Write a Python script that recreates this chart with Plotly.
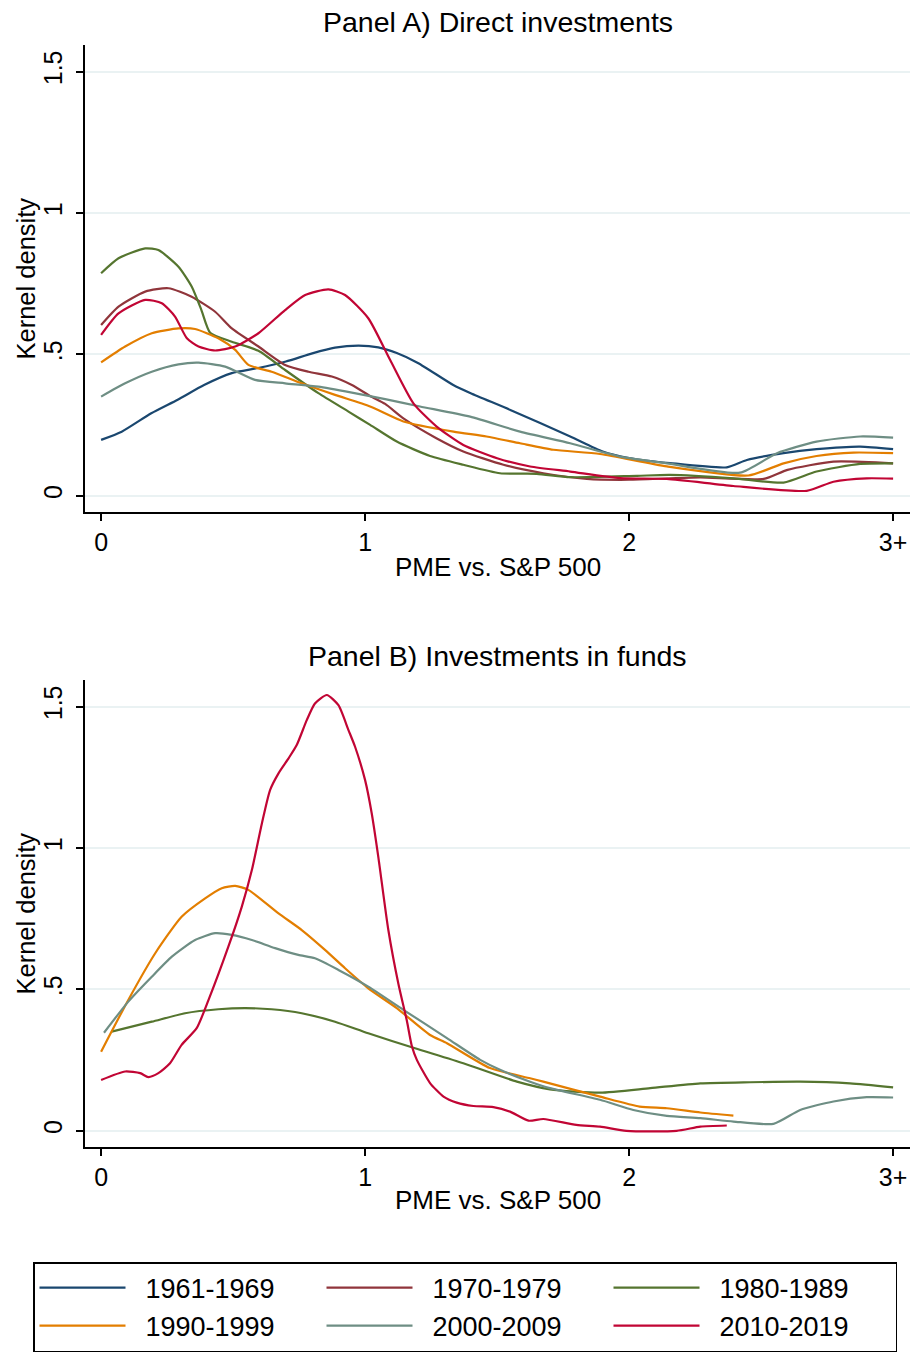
import plotly.graph_objects as go

W, H = 914, 1357

series_names = ["1961-1969", "1970-1979", "1980-1989", "1990-1999", "2000-2009", "2010-2019"]
series_colors = ["#1a476f", "#90353b", "#55752f", "#e37e00", "#6e8e84", "#c10534"]

x_tickvals = [0, 1, 2, 3]
x_ticktext = ["0", "1", "2", "3+"]
y_tickvals = [0, 0.5, 1, 1.5]
y_ticktext = ["0", ".5", "1", "1.5"]

# ---------------- Panel A: Direct investments ----------------
a_1961_x = [0, 0.078, 0.19, 0.29, 0.39, 0.495, 0.595, 0.70, 0.80, 0.886, 0.975, 1.05, 1.12, 1.20, 1.334, 1.40, 1.55, 1.777, 1.90, 2.0, 2.155, 2.37, 2.446, 2.585, 2.71, 2.875, 3.0]
a_1961_y = [0.198, 0.227, 0.292, 0.34, 0.392, 0.434, 0.452, 0.475, 0.504, 0.524, 0.531, 0.525, 0.505, 0.47, 0.392, 0.363, 0.304, 0.21, 0.157, 0.134, 0.116, 0.101, 0.127, 0.151, 0.165, 0.174, 0.165]

a_1970_x = [0, 0.066, 0.167, 0.255, 0.343, 0.432, 0.495, 0.596, 0.697, 0.785, 0.874, 0.95, 1.019, 1.076, 1.145, 1.27, 1.372, 1.524, 1.675, 1.84, 2.0, 2.155, 2.27, 2.51, 2.6, 2.774, 3.0]
a_1970_y = [0.604, 0.669, 0.722, 0.734, 0.704, 0.651, 0.592, 0.528, 0.463, 0.439, 0.422, 0.392, 0.353, 0.325, 0.274, 0.204, 0.157, 0.110, 0.080, 0.060, 0.057, 0.062, 0.065, 0.060, 0.092, 0.121, 0.115]

a_1980_x = [0, 0.066, 0.167, 0.217, 0.293, 0.343, 0.38, 0.413, 0.495, 0.596, 0.697, 0.823, 0.937, 1.019, 1.12, 1.246, 1.372, 1.511, 1.65, 1.777, 2.03, 2.155, 2.395, 2.585, 2.71, 2.875, 3.0]
a_1980_y = [0.787, 0.84, 0.875, 0.869, 0.81, 0.74, 0.657, 0.577, 0.545, 0.513, 0.445, 0.363, 0.298, 0.251, 0.192, 0.141, 0.11, 0.080, 0.078, 0.066, 0.071, 0.074, 0.062, 0.047, 0.086, 0.113, 0.115]

a_1990_x = [0, 0.091, 0.192, 0.293, 0.356, 0.444, 0.508, 0.558, 0.646, 0.76, 0.886, 1.019, 1.145, 1.335, 1.46, 1.587, 1.713, 1.89, 2.143, 2.452, 2.585, 2.71, 2.85, 3.0]
a_1990_y = [0.472, 0.528, 0.575, 0.592, 0.59, 0.557, 0.516, 0.463, 0.439, 0.398, 0.357, 0.316, 0.263, 0.227, 0.21, 0.186, 0.163, 0.148, 0.104, 0.072, 0.115, 0.141, 0.153, 0.151]

a_2000_x = [0, 0.091, 0.192, 0.293, 0.369, 0.47, 0.583, 0.697, 0.823, 0.95, 1.076, 1.208, 1.398, 1.587, 1.777, 1.966, 2.143, 2.42, 2.56, 2.71, 2.875, 3.0]
a_2000_y = [0.351, 0.398, 0.439, 0.465, 0.471, 0.457, 0.41, 0.398, 0.386, 0.365, 0.342, 0.316, 0.28, 0.227, 0.186, 0.139, 0.115, 0.082, 0.151, 0.192, 0.21, 0.206]

a_2010_x = [0, 0.066, 0.167, 0.23, 0.28, 0.325, 0.369, 0.432, 0.508, 0.596, 0.697, 0.773, 0.861, 0.924, 1.012, 1.095, 1.183, 1.271, 1.372, 1.5, 1.625, 1.777, 1.966, 2.143, 2.395, 2.673, 2.774, 2.9, 3.0]
a_2010_y = [0.569, 0.645, 0.693, 0.681, 0.634, 0.557, 0.528, 0.514, 0.528, 0.575, 0.657, 0.71, 0.73, 0.71, 0.628, 0.48, 0.327, 0.245, 0.18, 0.133, 0.104, 0.086, 0.063, 0.06, 0.035, 0.018, 0.05, 0.062, 0.061]

# ---------------- Panel B: Investments in funds ----------------
b_1980_x = [0.04, 0.192, 0.318, 0.444, 0.545, 0.646, 0.76, 0.886, 1.012, 1.189, 1.372, 1.575, 1.7, 1.89, 2.08, 2.27, 2.458, 2.648, 2.837, 3.0]
b_1980_y = [0.351, 0.386, 0.416, 0.43, 0.434, 0.43, 0.416, 0.386, 0.345, 0.292, 0.239, 0.174, 0.147, 0.135, 0.151, 0.168, 0.172, 0.174, 0.168, 0.154]

b_1990_x = [0, 0.103, 0.205, 0.305, 0.394, 0.457, 0.508, 0.558, 0.672, 0.76, 0.848, 0.924, 1.012, 1.12, 1.246, 1.31, 1.473, 1.625, 1.675, 1.89, 2.04, 2.143, 2.27, 2.395]
b_1990_y = [0.28, 0.463, 0.628, 0.757, 0.822, 0.858, 0.866, 0.852, 0.769, 0.71, 0.64, 0.575, 0.504, 0.434, 0.339, 0.31, 0.222, 0.186, 0.174, 0.121, 0.086, 0.08, 0.065, 0.054]

b_2000_x = [0.011, 0.103, 0.192, 0.268, 0.356, 0.432, 0.495, 0.571, 0.659, 0.747, 0.81, 0.899, 1.012, 1.145, 1.31, 1.436, 1.511, 1.625, 1.7, 1.89, 2.016, 2.143, 2.27, 2.395, 2.547, 2.648, 2.774, 2.9, 3.0]
b_2000_y = [0.347, 0.457, 0.545, 0.616, 0.675, 0.699, 0.693, 0.675, 0.646, 0.622, 0.61, 0.569, 0.51, 0.428, 0.328, 0.251, 0.216, 0.174, 0.151, 0.11, 0.074, 0.053, 0.045, 0.033, 0.025, 0.074, 0.104, 0.119, 0.118]

b_2010_x = [0, 0.091, 0.148, 0.179, 0.217, 0.261, 0.305, 0.362, 0.407, 0.482, 0.533, 0.571, 0.609, 0.64, 0.672, 0.71, 0.741, 0.779, 0.81, 0.855, 0.899, 0.937, 0.962, 1.0, 1.025, 1.05, 1.088, 1.126, 1.158, 1.177, 1.196, 1.246, 1.297, 1.347, 1.41, 1.486, 1.549, 1.619, 1.675, 1.8, 1.89, 1.99, 2.18, 2.27, 2.37]
b_2010_y = [0.18, 0.21, 0.204, 0.19, 0.204, 0.239, 0.304, 0.363, 0.463, 0.651, 0.793, 0.922, 1.087, 1.205, 1.264, 1.317, 1.364, 1.452, 1.511, 1.541, 1.505, 1.417, 1.358, 1.24, 1.123, 0.969, 0.71, 0.52, 0.39, 0.30, 0.251, 0.169, 0.121, 0.1, 0.088, 0.084, 0.068, 0.036, 0.042, 0.021, 0.015, 0.0, 0.0, 0.015, 0.019]

panel_a = [
    (0, a_1961_x, a_1961_y),
    (1, a_1970_x, a_1970_y),
    (2, a_1980_x, a_1980_y),
    (3, a_1990_x, a_1990_y),
    (4, a_2000_x, a_2000_y),
    (5, a_2010_x, a_2010_y),
]
panel_b = [
    (2, b_1980_x, b_1980_y),
    (3, b_1990_x, b_1990_y),
    (4, b_2000_x, b_2000_y),
    (5, b_2010_x, b_2010_y),
]

FONT = "Arial, Liberation Sans, Helvetica, sans-serif"
PAD = "\u00a0\u00a0"  # small gap between legend key and label
fig = go.Figure()

for i, xs, ys in panel_a:
    fig.add_trace(go.Scatter(
        x=xs, y=ys, mode="lines", name=PAD + series_names[i],
        line=dict(color=series_colors[i], width=2.2, shape="spline", smoothing=0.6),
        xaxis="x", yaxis="y", showlegend=True, legendrank=i,
    ))
for i, xs, ys in panel_b:
    fig.add_trace(go.Scatter(
        x=xs, y=ys, mode="lines", name=series_names[i],
        line=dict(color=series_colors[i], width=2.2, shape="spline", smoothing=0.6),
        xaxis="x2", yaxis="y2", showlegend=False,
    ))

left_px, right_px = 85, 910
dom_x = [left_px / W, right_px / W]
dom_a = [(H - 512) / H, (H - 45) / H]
dom_b = [(H - 1147) / H, (H - 680) / H]

xr = [-0.061, 3.064]
yr = [-0.057, 1.594]

def xaxis_cfg(anchor):
    return dict(
        domain=dom_x, anchor=anchor, range=xr, tickmode="array",
        tickvals=x_tickvals, ticktext=x_ticktext, showgrid=False, zeroline=False,
        showline=True, linecolor="black", linewidth=1.5, ticks="outside",
        ticklen=7, tickwidth=1.5, tickcolor="black",
        tickfont=dict(family=FONT, size=25, color="black"),
    )

def yaxis_cfg(anchor):
    return dict(
        domain=dom_a if anchor == "x" else dom_b, anchor=anchor, range=yr,
        tickmode="array", tickvals=y_tickvals, ticktext=y_ticktext,
        showgrid=True, gridcolor="#eaf2f3", gridwidth=2, zeroline=False,
        showline=True, linecolor="black", linewidth=1.5, ticks="outside",
        ticklen=7, tickwidth=1.5, tickcolor="black", tickangle=-90,
        ticklabelstandoff=4,
        tickfont=dict(family=FONT, size=25, color="black"),
    )

fig.update_layout(
    width=W, height=H,
    margin=dict(l=0, r=0, t=0, b=0, autoexpand=False),
    paper_bgcolor="white", plot_bgcolor="white",
    font=dict(family=FONT, color="black"),
    xaxis=xaxis_cfg("y"), yaxis=yaxis_cfg("x"),
    xaxis2=xaxis_cfg("y2"), yaxis2=yaxis_cfg("x2"),
    legend=dict(
        orientation="h", x=33 / W, xanchor="left", y=(H - 1262) / H, yanchor="top",
        bordercolor="black", borderwidth=1.5, bgcolor="white",
        font=dict(family=FONT, size=27, color="black"),
        entrywidth=186, entrywidthmode="pixels", itemwidth=86,
        traceorder="normal", tracegroupgap=0,
    ),
)

cx = (left_px + right_px) / 2 / W
annots = [
    ("Panel A) Direct investments", cx, (H - 22) / H, 0, 28.5),
    ("Panel B) Investments in funds", cx, (H - 656) / H, 0, 28.5),
    ("PME vs. S&P 500", cx, (H - 567) / H, 0, 26),
    ("PME vs. S&P 500", cx, (H - 1200) / H, 0, 26),
    ("Kernel density", 25 / W, (H - 278.5) / H, -90, 25.5),
    ("Kernel density", 25 / W, (H - 913.5) / H, -90, 25.5),
]
for text, x, y, ang, size in annots:
    fig.add_annotation(
        text=text, x=x, y=y, xref="paper", yref="paper", showarrow=False,
        xanchor="center", yanchor="middle", textangle=ang,
        font=dict(family=FONT, size=size, color="black"),
    )

fig.write_html(
    "out.html",
    config={"displayModeBar": False},
    post_script="document.body.style.margin='0';document.body.style.overflow='hidden';",
)
